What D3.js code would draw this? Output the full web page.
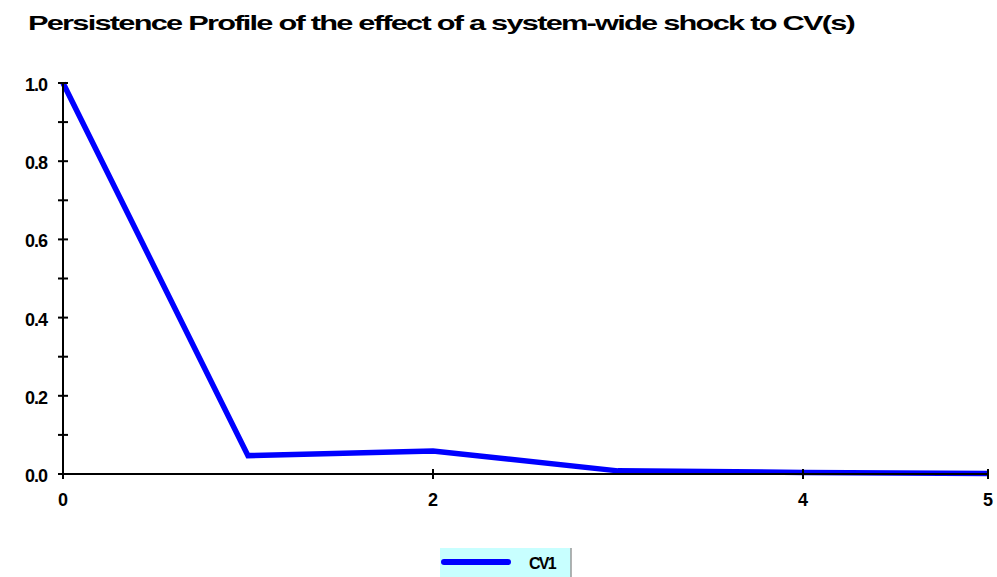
<!DOCTYPE html>
<html><head><meta charset="utf-8">
<script src="https://cdn.jsdelivr.net/npm/d3@7"></script>
<style>
body{margin:0;background:#fff;}
svg text{font-family:"Liberation Sans",Arial,sans-serif;font-weight:bold;fill:#000;}
</style></head>
<body>
<svg id="c" width="997" height="577"></svg>
<script>
const title = "Persistence Profile of the effect of a system-wide shock to CV(s)";
const horizons = [0, 1, 2, 3, 4, 5];
const cv1 = [1.0, 0.047, 0.059, 0.008, 0.004, 0.001];
const xTicks = [0, 2, 4, 5];
const yMajor = [0.0, 0.2, 0.4, 0.6, 0.8, 1.0];
const yMinor = [0.1, 0.3, 0.5, 0.7, 0.9];
const seriesName = "CV1";

const svg = d3.select("#c");
const x = d3.scaleLinear().domain([0, 5]).range([63, 988]);
const y = d3.scaleLinear().domain([0, 1]).range([474, 83]);

svg.append("text").attr("x", 28).attr("y", 30)
  .attr("font-size", 21).attr("letter-spacing", -1.2)
  .attr("textLength", 826).attr("lengthAdjust", "spacingAndGlyphs")
  .text(title);

// line
svg.append("path").datum(horizons.map((h, i) => [h, cv1[i]]))
  .attr("fill", "none").attr("stroke", "#0000ff").attr("stroke-width", 5.5)
  .attr("stroke-linejoin", "miter")
  .attr("d", d3.line().x(d => x(d[0])).y(d => y(d[1])));

// y axis
const ya = svg.append("g");
ya.append("line").attr("x1", x(0)).attr("x2", x(0)).attr("y1", y(1)).attr("y2", y(0))
  .attr("stroke", "#000").attr("stroke-width", 2);
ya.selectAll(".mj").data(yMajor.concat(yMinor)).join("line")
  .attr("x1", x(0) - 5).attr("x2", x(0) + 5)
  .attr("y1", d => y(d)).attr("y2", d => y(d))
  .attr("stroke", "#000").attr("stroke-width", 2);
ya.selectAll("text").data(yMajor).join("text")
  .attr("x", 47).attr("y", d => y(d) + 8).attr("text-anchor", "end")
  .attr("font-size", 18).attr("letter-spacing", -1)
  .text(d => d3.format(".1f")(d));

// x axis
const xa = svg.append("g");
xa.append("line").attr("x1", x(0)).attr("x2", x(5)).attr("y1", y(0)).attr("y2", y(0))
  .attr("stroke", "#000").attr("stroke-width", 2);
xa.selectAll("line.t").data(xTicks).join("line").attr("class", "t")
  .attr("x1", d => x(d)).attr("x2", d => x(d))
  .attr("y1", y(0) - 5).attr("y2", y(0) + 5)
  .attr("stroke", "#000").attr("stroke-width", 2);
xa.selectAll("text").data(xTicks).join("text")
  .attr("x", d => x(d)).attr("y", 506).attr("text-anchor", "middle")
  .attr("font-size", 18).text(d => d);

// legend
const lg = svg.append("g");
lg.append("rect").attr("x", 440).attr("y", 548).attr("width", 131).attr("height", 29)
  .attr("fill", "#c8ffff");
lg.append("line").attr("x1", 571).attr("x2", 571).attr("y1", 548).attr("y2", 577)
  .attr("stroke", "#999").attr("stroke-width", 1.5);
lg.append("line").attr("x1", 444).attr("x2", 508).attr("y1", 562).attr("y2", 562)
  .attr("stroke", "#0000ff").attr("stroke-width", 6).attr("stroke-linecap", "round");
lg.append("text").attr("x", 529).attr("y", 569).attr("font-size", 16)
  .attr("letter-spacing", -1.8).text(seriesName);
</script>
</body></html>
